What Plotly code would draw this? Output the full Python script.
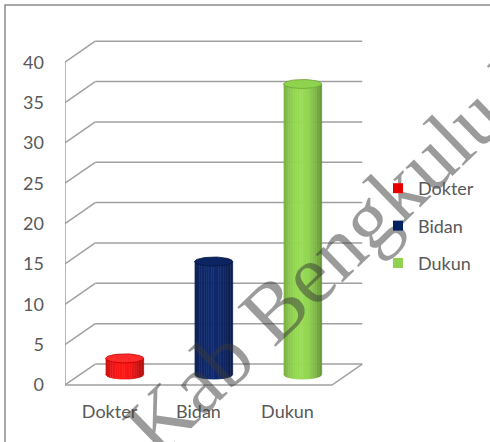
import numpy as np
import plotly.graph_objects as go

# ---------------- data ----------------
categories = ["Dokter", "Bidan", "Dukun"]
values = [2, 14, 36]
y_ticks = [0, 5, 10, 15, 20, 25, 30, 35, 40]
watermark = "Kab Bengkulu Utara"

# ---------------- style ----------------
body_colors = [(255, 22, 22), (16, 42, 110), (152, 220, 85)]
top_colors = ["#ff2a2a", "#0c2462", "#8fd24e"]
rim_colors = ["#c00000", "#061640", "#6fa535"]
legend_colors = ["#e60000", "#002060", "#92d050"]
grid_color = "#a0a0a0"
text_color = "#595959"
FONT = "Lato"

DEPTH_X = 0.34    # oblique depth offset, x units
DEPTH_Y = 2.6     # oblique depth offset, value units
RX = 0.2135       # cylinder radius (x units)
RY = 0.56         # ellipse half-height (value units)
N_SLICES = 16

W, H = 490, 442
ML, MR, MT, MB = 65, 0, 0, 50
PX_X = 89.0       # pixels per category unit
PX_Y = 8.07       # pixels per value unit
plot_w = W - ML - MR
plot_h = H - MT - MB
x_range = [-0.5, -0.5 + plot_w / PX_X]
y_bottom = -(plot_h - 385) / PX_Y
y_range = [y_bottom, y_bottom + plot_h / PX_Y]

fig = go.Figure()

def line(xs, ys):
    fig.add_trace(go.Scatter(x=xs, y=ys, mode="lines",
                             line=dict(color=grid_color, width=1.5),
                             showlegend=False, hoverinfo="skip"))

n = len(categories)
x_left, x_right = -0.5, n - 0.5
ymax = max(y_ticks)

# back wall gridlines + side wall diagonals
gx, gy = [], []
for v in y_ticks:
    gx += [x_left + DEPTH_X, x_right + DEPTH_X, None]
    gy += [v + DEPTH_Y, v + DEPTH_Y, None]
    gx += [x_left, x_left + DEPTH_X, None]
    gy += [v, v + DEPTH_Y, None]
# front left edge of side wall
gx += [x_left, x_left, None]
gy += [0, ymax, None]
# floor front and right edge
gx += [x_left, x_right, x_right + DEPTH_X, None]
gy += [0, 0, DEPTH_Y, None]
line(gx, gy)

def shade(rgb, t):
    f = 1 - 0.34 * ((t + 0.12) / 1.12) ** 2
    return "rgb(%d,%d,%d)" % tuple(int(max(0, min(255, c * f))) for c in rgb)

for i, (cat, v) in enumerate(zip(categories, values)):
    xc = i + DEPTH_X / 2
    yb = DEPTH_Y / 2
    yt = v + DEPTH_Y / 2
    for k in range(N_SLICES):
        t0 = -1 + 2 * k / N_SLICES
        t1 = -1 + 2 * (k + 1) / N_SLICES
        ts = np.linspace(t0, t1, 5)
        xs = xc + RX * ts
        yb_arc = yb - RY * np.sqrt(np.clip(1 - ts ** 2, 0, 1))
        px = list(xs) + list(xs[::-1])
        py = list(yb_arc) + [yt] * len(xs)
        col = shade(body_colors[i], (t0 + t1) / 2)
        fig.add_trace(go.Scatter(x=px, y=py, mode="lines", fill="toself",
                                 fillcolor=col, line=dict(color=col, width=0.8),
                                 legendgroup=cat, showlegend=False, hoverinfo="skip"))
    th = np.linspace(0, 2 * np.pi, 72)
    fig.add_trace(go.Scatter(x=xc + RX * np.cos(th), y=yt + RY * np.sin(th),
                             mode="lines", fill="toself", fillcolor=top_colors[i],
                             line=dict(color=rim_colors[i], width=0.8),
                             legendgroup=cat, showlegend=False, hoverinfo="skip"))

for i, cat in enumerate(categories):
    fig.add_trace(go.Scatter(x=[None], y=[None], mode="markers", name=cat,
                             legendgroup=cat,
                             marker=dict(symbol="square", size=10, color=legend_colors[i])))

def px2paper(x, y):
    return (x - ML) / plot_w, (H - MB - y) / plot_h

# watermark text line (decoration)
ang = np.deg2rad(44)
d = np.array([np.cos(ang), -np.sin(ang)])
fs = 84
mid = np.array([382.0, 192.0])
half = 345
s = mid - d * half
e = mid + d * half
sx, sy = px2paper(*s)
ex, ey = px2paper(*e)
bx0, by1 = px2paper(5, 5)

fig.update_layout(
    shapes=[
        dict(type="line", xref="paper", yref="paper", x0=sx, y0=sy, x1=ex, y1=ey,
             layer="above", line=dict(width=0, color="rgba(0,0,0,0)"),
             label=dict(text=watermark, textposition="middle", yanchor="middle",
                        padding=0, textangle=-44,
                        font=dict(family="Liberation Serif", size=fs,
                                  color="rgba(55,55,55,0.5)"))),
        dict(type="rect", xref="paper", yref="paper", x0=bx0, y0=-0.5, x1=1.5, y1=by1,
             line=dict(color="#8c8c8c", width=1.5), fillcolor="rgba(0,0,0,0)"),
    ],
    width=W, height=H,
    margin=dict(l=ML, r=MR, t=MT, b=MB, autoexpand=False),
    paper_bgcolor="white", plot_bgcolor="rgba(0,0,0,0)",
    font=dict(family=FONT, size=18, color=text_color),
    xaxis=dict(range=x_range, tickvals=list(range(n)), ticktext=categories,
               showgrid=False, zeroline=False, showline=False, ticks="",
               ticklabelstandoff=7, tickfont=dict(size=18, color=text_color),
               fixedrange=True),
    yaxis=dict(range=y_range, tickvals=y_ticks, showgrid=False, zeroline=False,
               showline=False, ticks="", ticklabelstandoff=20,
               tickfont=dict(size=18, color=text_color), fixedrange=True),
    legend=dict(x=(378 - ML) / plot_w, y=(H - MB - 170) / plot_h,
                xanchor="left", yanchor="top", tracegroupgap=11,
                bgcolor="rgba(0,0,0,0)", font=dict(size=18, color=text_color)),
    showlegend=True,
)

fig.write_html("out.html", config={"displayModeBar": False},
               post_script="document.body.style.margin='0';document.body.style.overflow='hidden';")
